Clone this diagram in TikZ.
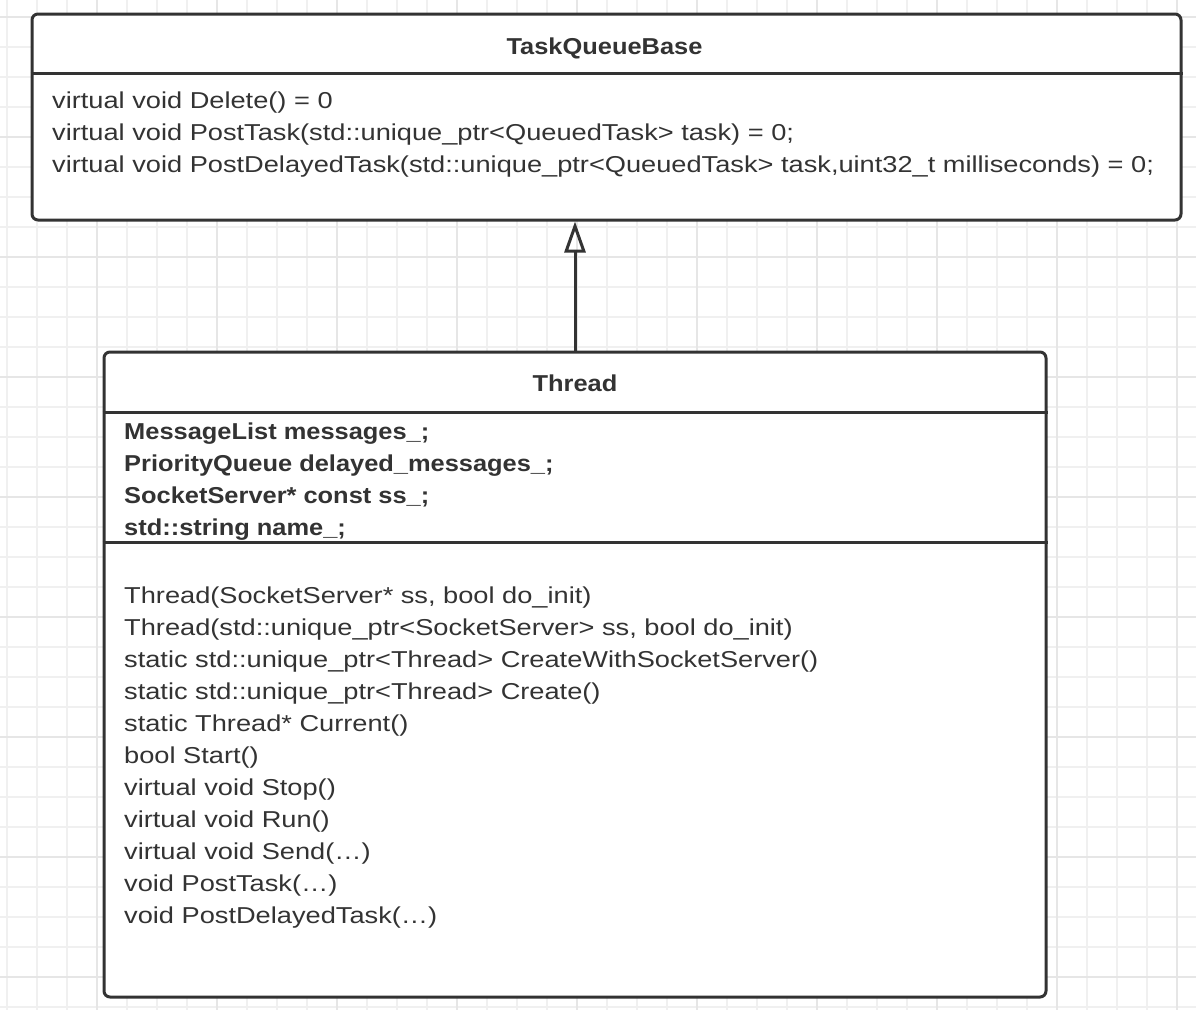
\documentclass[tikz,border=0pt]{standalone}
\usepackage{fontspec}
\setmainfont{Liberation Sans}[FakeStretch=1.183]
\newfontfamily\boldsans{Liberation Sans Bold}[FakeStretch=1.105]
\usetikzlibrary{arrows.meta}

\definecolor{linegray}{HTML}{333333}
\definecolor{gridminor}{HTML}{F0F0F0}
\definecolor{gridmajor}{HTML}{E6E6E6}

\begin{document}
\begin{tikzpicture}[x=1pt, y=-1pt,
    classbox/.style={draw=linegray, line width=3pt, rounded corners=6pt, fill=white, inner sep=0pt},
    sepline/.style={draw=linegray, line width=3pt},
    member/.style={anchor=base west, inner sep=0pt, text=linegray, font=\fontsize{23}{28}\selectfont},
    field/.style={member, font=\fontsize{23}{28}\selectfont\boldsans},
    classname/.style={anchor=base, inner sep=0pt, text=linegray, font=\fontsize{23}{28}\selectfont\boldsans},
    minorgrid/.style={draw=gridminor, line width=1.2pt},
    majorgrid/.style={draw=gridmajor, line width=1.5pt}]

    % Fix the page size and paint the background
    \useasboundingbox[fill=white] (0,0) rectangle (1196,1010);

    % Draw the background grid
    \foreach \x in {7,37,...,1195}
        \draw[minorgrid] (\x,0) -- (\x,1010);
    \foreach \y in {17,47,...,1009}
        \draw[minorgrid] (0,\y) -- (1196,\y);
    \foreach \x in {97,217,...,1195}
        \draw[majorgrid] (\x,0) -- (\x,1010);
    \foreach \y in {17,137,...,1009}
        \draw[majorgrid] (0,\y) -- (1196,\y);

    % Draw the two class boxes
    \node[classbox, minimum width=1149pt, minimum height=206pt] (base) at (606.5,117) {};
    \node[classbox, minimum width=942pt, minimum height=645pt] (thread) at (575,674.5) {};

    % Draw the compartment lines
    \draw[sepline] (base.west |- 0,73) -- (base.east |- 0,73);
    \draw[sepline] (thread.west |- 0,412) -- (thread.east |- 0,412);
    \draw[sepline] (thread.west |- 0,542) -- (thread.east |- 0,542);

    % Draw the inheritance arrow
    \draw[draw=linegray, line width=3pt, -{Triangle[open, length=31pt, width=21pt]}] (thread.north) -- (thread.north |- base.south);

    % Add the class names
    \node[classname] (basename) at (604.5,54) {TaskQueueBase};
    \node[classname] (threadname) at (575,391.5) {Thread};

    % Add the members of TaskQueueBase
    \foreach \txt [count=\i] in {%
        {virtual void Delete() = 0},
        {virtual void PostTask(std::unique\_ptr<QueuedTask> task) = 0;},
        {virtual void PostDelayedTask(std::unique\_ptr<QueuedTask> task,uint32\_t milliseconds) = 0;}}
        \node[member] (bm\i) at (52,{76.5+32*\i}) {\txt};

    % Add the fields of Thread
    \foreach \txt [count=\i] in {%
        {MessageList messages\_;},
        {PriorityQueue delayed\_messages\_;},
        {SocketServer* const ss\_;},
        {std::string name\_;}}
        \node[field] (ta\i) at (124,{407+32*\i}) {\txt};

    % Add the methods of Thread
    \foreach \txt [count=\i] in {%
        {Thread(SocketServer* ss, bool do\_init)},
        {Thread(std::unique\_ptr<SocketServer> ss, bool do\_init)},
        {static std::unique\_ptr<Thread> CreateWithSocketServer()},
        {static std::unique\_ptr<Thread> Create()},
        {static Thread* Current()},
        {bool Start()},
        {virtual void Stop()},
        {virtual void Run()},
        {virtual void Send(\ldots)},
        {void PostTask(\ldots)},
        {void PostDelayedTask(\ldots)}}
        \node[member] (tm\i) at (124,{571.5+32*\i}) {\txt};

\end{tikzpicture}
\end{document}
